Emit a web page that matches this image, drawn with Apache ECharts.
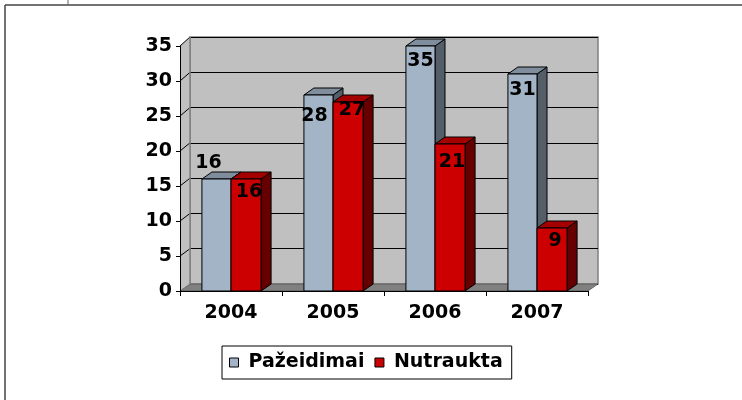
<!DOCTYPE html>
<html>
<head>
<meta charset="utf-8">
<script src="https://cdn.jsdelivr.net/npm/echarts@6/dist/echarts.min.js"></script>
<style>html,body{margin:0;padding:0;background:#fff;}#c{width:742px;height:400px;}</style>
</head>
<body>
<div id="c"></div>
<script>
// ---- data ----
var categories = ['2004', '2005', '2006', '2007'];
var seriesNames = ['Pažeidimai', 'Nutraukta'];
var pazeidimai = [16, 28, 35, 31];
var nutraukta = [16, 27, 21, 9];
var yTicks = [0, 5, 10, 15, 20, 25, 30, 35];

// ---- style / layout ----
var FONT = 'DejaVu Sans';
var FS = 19;
var FRONT = { left: 180, top: 46, width: 408, height: 245 };
var BACK = { left: 190, top: 37, width: 408, height: 247 };
var DX = 10, DY = -7;
var colors = [
  { front: '#A4B4C7', top: '#7F8D9C', side: '#535E69' },
  { front: '#CC0000', top: '#A40000', side: '#660000' }
];
// label shifts relative to the centre of the bar top (dx, dy) per series per category
var labelShift = [
  [[-8, -16], [-4, 21], [0, 15], [0, 16]],
  [[3, 13], [4, 8], [2, 18], [3, 13]]
];
var YMAX = 35;

var chart = echarts.init(document.getElementById('c'), null, { renderer: 'canvas' });

function barRender(si) {
  return function (params, api) {
    var idx = api.value(0), val = api.value(1);
    var p = api.coord([idx, val]);
    var p0 = api.coord([idx, 0]);
    var band = api.size([1, 0])[0];
    var x0, x1;
    if (si === 0) { x0 = p[0] - 0.285 * band; x1 = p[0]; }
    else { x0 = p[0]; x1 = p[0] + 0.295 * band; }
    var yt = p[1], yb = p0[1];
    var c = colors[si];
    var st = { stroke: '#000', lineWidth: 1 };
    var sh = labelShift[si][idx];
    return {
      type: 'group',
      children: [
        { type: 'polygon', shape: { points: [[x1, yt], [x1 + DX, yt + DY], [x1 + DX, yb + DY], [x1, yb]] }, style: Object.assign({ fill: c.side }, st) },
        { type: 'polygon', shape: { points: [[x0, yt], [x1, yt], [x1 + DX, yt + DY], [x0 + DX, yt + DY]] }, style: Object.assign({ fill: c.top }, st) },
        { type: 'rect', shape: { x: x0, y: yt, width: x1 - x0, height: yb - yt }, style: Object.assign({ fill: c.front }, st) },
        { type: 'text', z2: 10, style: { text: String(val), x: (x0 + x1) / 2 + sh[0], y: yt + sh[1], align: 'center', verticalAlign: 'middle', font: 'bold ' + FS + 'px "' + FONT + '"', fill: '#000' } }
      ]
    };
  };
}

function wallRender(params, api) {
  var children = [];
  var fl = FRONT.left, fb = FRONT.top + FRONT.height, fr = FRONT.left + FRONT.width;
  var bl = BACK.left, bb = BACK.top + BACK.height, br = BACK.left + BACK.width;
  // left wall
  children.push({ type: 'polygon', shape: { points: [[fl, fb], [fl, FRONT.top], [bl, BACK.top], [bl, bb]] }, style: { fill: '#C0C0C0', stroke: null } });
  // floor
  children.push({ type: 'polygon', shape: { points: [[fl, fb], [fr, fb], [br, bb], [bl, bb]] }, style: { fill: '#808080', stroke: '#404040', lineWidth: 0.6 } });
  // diagonal gridlines on left wall
  yTicks.forEach(function (v) {
    if (v === 0) return;
    var yf = api.coord([0, v])[1];
    var yb = BACK.top + BACK.height * (1 - v / YMAX);
    children.push({ type: 'line', shape: { x1: fl, y1: yf, x2: bl, y2: yb }, style: { stroke: '#000', lineWidth: 1 } });
  });
  children.push({ type: 'line', shape: { x1: bl, y1: BACK.top, x2: bl, y2: bb }, style: { stroke: '#808080', lineWidth: 1.5 } });
  return { type: 'group', children: children };
}

var option = {
  animation: false,
  backgroundColor: '#fff',
  textStyle: { fontFamily: FONT },
  graphic: [
    { type: 'line', shape: { x1: 5, y1: 5, x2: 742, y2: 5 }, style: { stroke: '#444', lineWidth: 1.5 } },
    { type: 'line', shape: { x1: 5, y1: 5, x2: 5, y2: 400 }, style: { stroke: '#444', lineWidth: 1.5 } },
    { type: 'line', shape: { x1: 68, y1: 0, x2: 68, y2: 5 }, style: { stroke: '#666', lineWidth: 1 } }
  ],
  legend: {
    left: 222, top: 346,
    padding: [7, 9, 7, 7],
    itemGap: 10,
    itemWidth: 9, itemHeight: 9,
    borderColor: '#000', borderWidth: 1,
    textStyle: { fontFamily: FONT, fontWeight: 'bold', fontSize: FS, color: '#000', padding: [0, 0, 0, 5] },
    data: [
      { name: seriesNames[0], icon: 'rect', itemStyle: { color: colors[0].front, borderColor: '#000', borderWidth: 1 } },
      { name: seriesNames[1], icon: 'rect', itemStyle: { color: colors[1].front, borderColor: '#000', borderWidth: 1 } }
    ]
  },
  grid: [
    { left: FRONT.left, top: FRONT.top, width: FRONT.width, height: FRONT.height, containLabel: false },
    { left: BACK.left, top: BACK.top, width: BACK.width, height: BACK.height, show: true, backgroundColor: '#C0C0C0', borderColor: '#808080', borderWidth: 1.5 }
  ],
  xAxis: [
    { gridIndex: 0, type: 'category', data: categories, z: 5,
      axisLine: { lineStyle: { color: '#000', width: 1 } },
      axisTick: { show: true, length: 5, lineStyle: { color: '#000' } },
      axisLabel: { margin: 13, fontFamily: FONT, fontWeight: 'bold', fontSize: FS, color: '#000' },
      splitLine: { show: false } },
    { gridIndex: 1, type: 'category', data: categories, show: false }
  ],
  yAxis: [
    { gridIndex: 0, type: 'value', min: 0, max: YMAX, interval: 5, z: 5,
      axisLine: { show: true, lineStyle: { color: '#000', width: 1 } },
      axisTick: { show: true, length: 4, lineStyle: { color: '#000' } },
      axisLabel: { margin: 8, fontFamily: FONT, fontWeight: 'bold', fontSize: FS, color: '#000' },
      splitLine: { show: false } },
    { gridIndex: 1, type: 'value', min: 0, max: YMAX, interval: 5,
      axisLine: { show: false }, axisTick: { show: false }, axisLabel: { show: false },
      splitLine: { show: true, lineStyle: { color: '#000', width: 1 } } }
  ],
  series: [
    { type: 'custom', name: '_walls', xAxisIndex: 0, yAxisIndex: 0, z: 1, silent: true,
      renderItem: wallRender, data: [[0, 0]] },
    { type: 'custom', name: seriesNames[0], xAxisIndex: 0, yAxisIndex: 0, z: 3,
      itemStyle: { color: colors[0].front },
      renderItem: barRender(0),
      data: pazeidimai.map(function (v, i) { return [i, v]; }) },
    { type: 'custom', name: seriesNames[1], xAxisIndex: 0, yAxisIndex: 0, z: 4,
      itemStyle: { color: colors[1].front },
      renderItem: barRender(1),
      data: nutraukta.map(function (v, i) { return [i, v]; }) }
  ]
};
chart.setOption(option);
</script>
</body>
</html>
